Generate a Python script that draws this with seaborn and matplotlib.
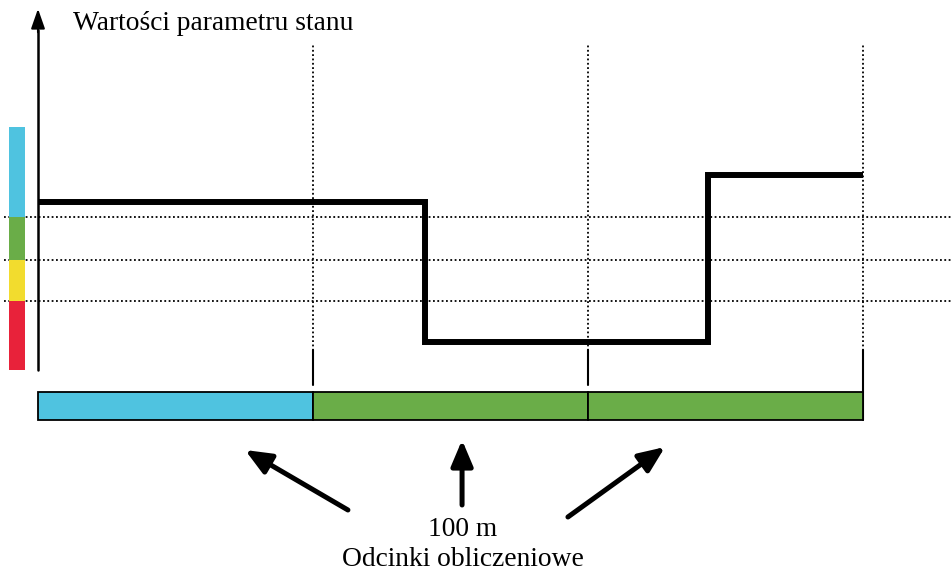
import matplotlib
matplotlib.use("Agg")
import matplotlib.pyplot as plt
import seaborn as sns
import pandas as pd

sns.set_theme(style="white")
plt.rcParams['font.family'] = ['Liberation Serif', 'DejaVu Serif']
plt.rcParams['text.color'] = 'black'

# Data ---------------------------------------------------------------
# state parameter along the road (m), stepwise
step_x = [0, 140.7, 243.6, 300]
step_y = [16.8, 2.8, 19.5, 19.5]

# rating classes on the parameter axis (lower bound, upper bound, colour)
class_lo = [0, 6.9, 11.0, 15.3]
class_hi = [6.9, 11.0, 15.3, 24.3]
class_col = ['#E8223A', '#F2DC2E', '#6AAD48', '#4FC3E0']
thresholds = [6.9, 11.0, 15.3]

# 100 m computation segments and their resulting class colour
seg_start = [0, 100, 200]
seg_len = [100, 100, 100]
seg_col = ['#4FC3E0', '#6AAD48', '#6AAD48']
seg_edges = [100, 200, 300]

y_label = 'Wartości parametru stanu'
seg_label_1 = '100 m'
seg_label_2 = 'Odcinki obliczeniowe'

# Figure -------------------------------------------------------------
fig = plt.figure(figsize=(9.52, 5.73), dpi=100)
ax = fig.add_axes([0, 0, 1, 1])
ax.set_xlim(-13.82, 332.36)
ax.set_ylim(-20.3, 37.0)
ax.axis('off')

dots = (0, (1, 1.4))

# dotted threshold lines
for t in thresholds:
    ax.axhline(t, xmin=0.004, xmax=1, color='black', lw=1.3,
               linestyle=dots, zorder=1)

# dotted segment boundaries and solid ticks
for e in seg_edges:
    ax.plot([e, e], [1.5, 32.5], color='black', lw=1.3,
            linestyle=dots, zorder=1)
    ax.plot([e, e], [-5.0 if e == seg_edges[-1] else -1.5, 2.0],
            color='black', lw=1.5, zorder=2)

# class colour bar on the left
ax.bar(-7.6, [h - l for l, h in zip(class_lo, class_hi)], bottom=class_lo,
       width=5.8, color=class_col, edgecolor='none', zorder=2)

# y axis with arrow
ax.plot([0, 0], [0, 34], color='black', lw=1.8, zorder=3)
ax.annotate('', xy=(0, 36.4), xytext=(0, 33.5),
            arrowprops=dict(arrowstyle='-|>,head_width=0.35,head_length=1.0',
                            color='black', lw=1.5), zorder=3)
ax.text(12.7, 34.6, y_label, fontsize=19.8, ha='left', va='center')

# step line of the parameter
df = pd.DataFrame({'x': step_x, 'y': step_y})
sns.lineplot(data=df, x='x', y='y', ax=ax, drawstyle='steps-post',
             color='black', lw=4.3, zorder=4,
             solid_joinstyle='miter', solid_capstyle='butt')

# segment bar at the bottom
ax.bar(seg_start, [-2.8] * len(seg_start), width=seg_len, bottom=-2.2,
       align='edge', color=seg_col, edgecolor='black', lw=1.3, zorder=3)

# arrows pointing to the segments
arrow_kw = dict(arrowstyle='-|>,head_width=0.55,head_length=1.3',
                color='black', lw=3.6, shrinkA=0, shrinkB=0)
ax.annotate('', xy=(75.3, -8.0), xytext=(112.7, -14.0), arrowprops=arrow_kw)
ax.annotate('', xy=(154.2, -7.0), xytext=(154.2, -13.5), arrowprops=arrow_kw)
ax.annotate('', xy=(228.0, -7.7), xytext=(192.7, -14.7), arrowprops=arrow_kw)

ax.text(154.5, -16.0, seg_label_1, fontsize=19.8, ha='center', va='center')
ax.text(154.5, -19.0, seg_label_2, fontsize=19.8, ha='center', va='center')

fig.savefig('out.png', dpi=100)
